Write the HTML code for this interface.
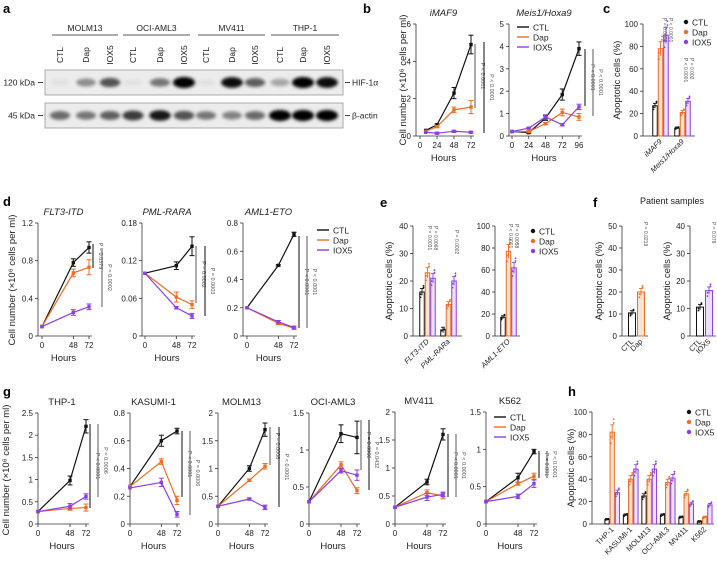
<!DOCTYPE html>
<html><head><meta charset="utf-8"><style>
body{margin:0;background:#fff}
svg{display:block;font-family:"Liberation Sans",sans-serif}
</style></head><body>
<svg id="fig" width="717" height="561" viewBox="0 0 717 561">
<defs><filter id="blur" x="-50%" y="-50%" width="200%" height="200%"><feGaussianBlur stdDeviation="1.6"/></filter></defs>
</svg>
<script>
// ---------- data ----------
const blotLanes=['CTL','Dap','IOX5','CTL','Dap','IOX5','CTL','Dap','IOX5','CTL','Dap','IOX5'];
const blotGroups=['MOLM13','OCI-AML3','MV411','THP-1'];
const hifBands=[0.05,0.4,0.65,0.05,0.5,1,0.05,0.95,0.6,0.3,1,0.95];
const actinBands=[0.55,0.5,0.6,0.75,0.9,0.65,0.5,0.45,0.55,1,1,1];

const b1Times=[8,24,48,72];
const b1Ctl=[0.3,0.6,2.3,4.9];const b1Dap=[0.25,0.5,1.4,1.55];const b1Iox=[0.2,0.15,0.25,0.2];
const b1CtlE=[0,0.05,0.3,0.5];const b1DapE=[0,0.05,0.15,0.35];const b1IoxE=[0,0.05,0.05,0.05];
const b2Times=[0,24,48,72,96];
const b2Ctl=[0.2,0.15,0.8,1.85,3.9];const b2Dap=[0.2,0.2,0.55,1.05,0.85];const b2Iox=[0.2,0.35,0.85,0.5,1.3];
const b2CtlE=[0,0.03,0.1,0.25,0.3];const b2DapE=[0,0.03,0.05,0.15,0.15];const b2IoxE=[0,0.03,0.1,0.05,0.12];

const cCats=['iMAF9','Meis1/Hoxa9'];
const cCtl=[27,7];const cDap=[78,21];const cIox=[90,31];

const dTimes=[0,48,72];
const dFltCtl=[0.1,0.78,0.94];const dFltDap=[0.1,0.67,0.73];const dFltIox=[0.1,0.25,0.31];
const dPmlCtl=[0.1,0.112,0.143];const dPmlDap=[0.1,0.062,0.05];const dPmlIox=[0.1,0.045,0.032];
const dAmlCtl=[0.2,0.5,0.72];const dAmlDap=[0.2,0.09,0.055];const dAmlIox=[0.2,0.1,0.06];

const eCats1=['FLT3-ITD','PML-RARa'];
const eCtl1=[16,2.2];const eDap1=[23,11.5];const eIox1=[21,20];
const eCats2=['AML1-ETO'];
const eCtl2=[17];const eDap2=[77];const eIox2=[62];

const fCats1=['CTL','Dap'];const fVals1=[10.5,20];
const fCats2=['CTL','IOX5'];const fVals2=[10.5,16.5];

const gTimes=[0,48,72];
const gThpCtl=[0.28,0.98,2.2];const gThpDap=[0.28,0.35,0.37];const gThpIox=[0.28,0.4,0.62];
const gKasCtl=[0.27,0.6,0.67];const gKasDap=[0.27,0.45,0.17];const gKasIox=[0.26,0.3,0.07];
const gMolCtl=[0.32,1.0,1.7];const gMolDap=[0.32,0.79,1.04];const gMolIox=[0.32,0.45,0.3];
const gOciCtl=[0.3,1.22,1.17];const gOciDap=[0.3,0.8,0.45];const gOciIox=[0.3,0.72,0.66];
const gMvCtl=[0.3,0.75,1.6];const gMvDap=[0.3,0.56,0.5];const gMvIox=[0.3,0.48,0.53];
const gK5Ctl=[0.3,0.62,0.97];const gK5Dap=[0.3,0.54,0.64];const gK5Iox=[0.3,0.37,0.54];

const hCats=['THP-1','KASUMI-1','MOLM13','OCI-AML3','MV411','K562'];
const hCtl=[4,8,25,8,6,2];const hDap=[82,40,40,37,27,6];const hIox=[28,49,49,41,18,17];

// ---------- helpers ----------
const NS='http://www.w3.org/2000/svg';
const svg=document.getElementById('fig');
const BLK='#111',ORG='#f26b21',PUR='#8b3fe6',ORGL='#fde3d2',PURL='#ece0fb';
function mk(tag,attrs,parent){const e=document.createElementNS(NS,tag);for(const k in attrs)e.setAttribute(k,attrs[k]);(parent||svg).appendChild(e);return e;}
function txt(x,y,s,size,opts){opts=opts||{};const t=mk('text',{x:x,y:y,'font-size':size,'text-anchor':opts.a||'start',fill:opts.fill||'#222'});if(opts.rot!==undefined)t.setAttribute('transform','rotate('+opts.rot+' '+x+' '+y+')');if(opts.it)t.setAttribute('font-style','italic');if(opts.b)t.setAttribute('font-weight','bold');t.textContent=s;return t;}

function yAxis(ax,y0,ytop,ymax,ticks,labels){
  const l=mk('line',{x1:ax,y1:y0,x2:ax,y2:ytop,stroke:'#333','stroke-width':0.8});
  
  
  ticks.forEach((v,i)=>{const y=y0-v/ymax*(y0-ytop);mk('line',{x1:ax-3,y1:y,x2:ax,y2:y,stroke:'#333','stroke-width':0.8});
    const t=txt(ax-5,y+3,labels[i],8,{a:'end'});
    
    });
}
function lineChart(c){
  const sy=v=>c.y0-v/c.ymax*(c.y0-c.ytop);
  const sx=t=>c.x0+t/c.tmax*(c.x1-c.x0);
  yAxis(c.ax,c.y0,c.ytop,c.ymax,c.yt,c.ytl);
  const xa=mk('line',{x1:c.ax,y1:c.y0,x2:c.x1+3,y2:c.y0,stroke:'#333','stroke-width':0.8});
  
  
  c.xt.forEach(t=>{const x=sx(t);mk('line',{x1:x,y1:c.y0,x2:x,y2:c.y0+3,stroke:'#333','stroke-width':0.8});
    const lb=txt(x,c.y0+12,String(t),8,{a:'middle'});
    
    });
  const h=txt((c.ax+c.x1)/2,c.y0+25,'Hours',9.5,{a:'middle'});
  
  
  if(c.title){const tt=txt((c.ax+c.x1)/2,c.ytop-8,c.title,9.5,{a:'middle',it:c.it});
    
    }
  c.series.forEach(s=>{
    const pts=s.v.map((v,i)=>sx(s.t[i])+','+sy(v)).join(' ');
    const pl=mk('polyline',{points:pts,fill:'none',stroke:s.col,'stroke-width':1.2});
    
    
    s.v.forEach((v,i)=>{const x=sx(s.t[i]),y=sy(v);const e=(s.e&&s.e[i])||0;
      if(e>0){mk('line',{x1:x,y1:sy(v-e),x2:x,y2:sy(v+e),stroke:s.col,'stroke-width':1});
        mk('line',{x1:x-2.5,y1:sy(v+e),x2:x+2.5,y2:sy(v+e),stroke:s.col,'stroke-width':1});
        mk('line',{x1:x-2.5,y1:sy(v-e),x2:x+2.5,y2:sy(v-e),stroke:s.col,'stroke-width':1});}
      const m=mk('rect',{x:x-1.7,y:y-1.7,width:3.4,height:3.4,fill:s.col});
      
      });
  });
}
function std(ctl,dap,iox,t,e){return [{t:t,v:ctl,col:BLK,e:e?e[0]:null},{t:t,v:dap,col:ORG,e:e?e[1]:null},{t:t,v:iox,col:PUR,e:e?e[2]:null}];}
function barChart(c){
  const sy=v=>c.y0-v/c.ymax*(c.y0-c.ytop);
  yAxis(c.ax,c.y0,c.ytop,c.ymax,c.yt,c.ytl);
  const xa=mk('line',{x1:c.ax,y1:c.y0,x2:c.xend,y2:c.y0,stroke:'#333','stroke-width':0.8});
  
  
  c.cats.forEach((cat,gi)=>{
    const gx=c.g0+gi*c.gs;
    c.series.forEach((s,si)=>{
      const x=gx+si*c.bs;const v=s.v[gi];
      const r=mk('rect',{x:x-c.bw/2,y:sy(v),width:c.bw,height:c.y0-sy(v),fill:s.fill,stroke:s.col,'stroke-width':1});
      
      
      const e=Math.max(1,v*0.08);
      mk('line',{x1:x,y1:sy(v-e),x2:x,y2:sy(v+e),stroke:s.col,'stroke-width':0.9});
      mk('line',{x1:x-2,y1:sy(v+e),x2:x+2,y2:sy(v+e),stroke:s.col,'stroke-width':0.9});
      [-0.12,0.1,-0.05,0.14].forEach((d,k)=>mk('circle',{cx:x+(k%2?1.5:-1.5),cy:sy(Math.max(0,v*(1+d))),r:0.9,fill:s.col}));
    });
    const lx=gx+(c.series.length-1)*c.bs/2+2;
    const lb=txt(lx,c.y0+6,cat,7.5,{a:'end',rot:-45,it:c.it});
    
    
  });
  const yt=txt(c.ttx,(c.y0+c.ytop)/2,'Apoptotic cells (%)',9.5,{a:'middle',rot:-90});
  
  
}
function legend(x,y,bars){
  [['CTL',BLK],['Dap',ORG],['IOX5',PUR]].forEach((p,i)=>{
    const yy=y+i*10;
    if(bars){mk('circle',{cx:x+3,cy:yy,r:2.2,fill:p[1]});}
    else{mk('line',{x1:x,y1:yy,x2:x+12,y2:yy,stroke:p[1],'stroke-width':1.4});}
    const t=txt(x+(bars?9:16),yy+3.5,p[0],8.5);
    
    
  });
}
function pbar(x,y1,y2,label,col){
  mk('line',{x1:x,y1:y1,x2:x,y2:y2,stroke:col||'#222','stroke-width':1.1});
  const t=txt(x+6,(y1+y2)/2,label,5.5,{a:'middle',rot:90,fill:'#555'});
  
  
}
function ytitle(x,y,s){const t=txt(x,y,s,9.5,{a:'middle',rot:-90});
  
  }
function panel(x,y,s){const t=txt(x,y,s,13,{b:true,fill:'#000'});
  
  }

// ---------- panel a ----------
panel(3,13,'a');
const laneX=[60,86,110,133,160,184,206,232,255,280,303,327];
blotGroups.forEach((g,i)=>{
  const x1=[52,123,198,271][i],x2=[118,190,265,339][i];
  mk('line',{x1:x1,y1:35,x2:x2,y2:35,stroke:'#222','stroke-width':0.8});
  const t=txt((x1+x2)/2,31,g,8.5,{a:'middle'});
  
  
});
blotLanes.forEach((l,i)=>{const t=txt(laneX[i]+3,55,l,8.5,{a:'middle',rot:-90});
  
  });
[[70,95,hifBands,'120 kDa','HIF-1α'],[103,128,actinBands,'45 kDa','β-actin']].forEach(b=>{
  const box=mk('rect',{x:45,y:b[0],width:298,height:b[1]-b[0],fill:'#ececec',stroke:'#999','stroke-width':0.8});
  
  
  const cy=(b[0]+b[1])/2;
  b[2].forEach((v,i)=>mk('ellipse',{cx:laneX[i],cy:cy,rx:9+v*2,ry:3+v*2.5,fill:'#000','fill-opacity':v,filter:'url(#blur)'}));
  mk('line',{x1:38,y1:cy,x2:43,y2:cy,stroke:'#444'});
  mk('line',{x1:345,y1:cy,x2:350,y2:cy,stroke:'#444'});
  txt(35,cy+3,b[3],8.5,{a:'end'});
  txt(352,cy+3,b[4],8.5);
});

// ---------- panel b ----------
panel(363,13,'b');
ytitle(406,80,'Cell number (×10⁶ cells per ml)');
lineChart({ax:416,x0:420,x1:471,tmax:72,y0:136,ytop:24,ymax:6,yt:[0,2,4,6],ytl:['0','2','4','6'],xt:[0,24,48,72],title:'iMAF9',it:true,
  series:std(b1Ctl,b1Dap,b1Iox,b1Times,[b1CtlE,b1DapE,b1IoxE])});
lineChart({ax:509,x0:512,x1:579,tmax:96,y0:136,ytop:24,ymax:5,yt:[0,1,2,3,4,5],ytl:['0','1','2','3','4','5'],xt:[0,24,48,72,96],title:'Meis1/Hoxa9',it:true,
  series:std(b2Ctl,b2Dap,b2Iox,b2Times,[b2CtlE,b2DapE,b2IoxE])});
legend(517,27,false);
pbar(475,44,108,'P < 0.0001','#666');pbar(484,42,133,'P < 0.0001','#222');
pbar(585,49,106,'P < 0.0001','#222');pbar(593,49,116,'P < 0.0001','#666');

// ---------- panel c ----------
panel(603,13,'c');
barChart({ax:643,y0:136,ytop:24,ymax:100,yt:[0,20,40,60,80,100],ytl:['0','20','40','60','80','100'],xend:695,g0:655,gs:22,bs:5.5,bw:4.5,cats:cCats,it:true,ttx:620,
  series:[{v:cCtl,col:BLK,fill:'#fff'},{v:cDap,col:ORG,fill:ORGL},{v:cIox,col:PUR,fill:PURL}]});
legend(683,22,true);
txt(663,18,'P = 0.0003',5,{rot:90,a:'start',fill:'#555'});txt(669,18,'P < 0.0001',5,{rot:90,a:'start',fill:'#555'});
txt(684,58,'P < 0.0001',5,{rot:90,a:'start',fill:'#555'});txt(690,58,'P = 0.002',5,{rot:90,a:'start',fill:'#555'});

// ---------- panel d ----------
panel(3,206,'d');
ytitle(15,280,'Cell number (×10⁶ cells per ml)');
lineChart({ax:38,x0:42,x1:89,tmax:72,y0:336,ytop:223,ymax:1.2,yt:[0,0.4,0.8,1.2],ytl:['0','0.4','0.8','1.2'],xt:dTimes,title:'FLT3-ITD',it:true,
  series:std(dFltCtl,dFltDap,dFltIox,dTimes,[[0,0.04,0.06],[0,0.04,0.08],[0,0.03,0.03]])});
lineChart({ax:142,x0:145,x1:192,tmax:72,y0:336,ytop:223,ymax:0.18,yt:[0,0.06,0.12,0.18],ytl:['0','0.06','0.12','0.18'],xt:dTimes,title:'PML-RARA',it:true,
  series:std(dPmlCtl,dPmlDap,dPmlIox,dTimes,[[0,0.006,0.015],[0,0.008,0.006],[0,0.002,0.004]])});
lineChart({ax:243,x0:247,x1:294,tmax:72,y0:336,ytop:223,ymax:0.8,yt:[0,0.2,0.4,0.6,0.8],ytl:['0','0.2','0.4','0.6','0.8'],xt:dTimes,title:'AML1-ETO',it:true,
  series:std(dAmlCtl,dAmlDap,dAmlIox,dTimes,[[0,0.005,0.015],[0,0.008,0.008],[0,0.01,0.01]])});
legend(317,230,false);
pbar(93,244,268,'P = 0.0379','#222');pbar(102,248,307,'P = 0.0002','#666');
pbar(196,246,303,'P = 0.0002','#666');pbar(205,246,316,'P = 0.0003','#222');
pbar(299,236,328,'P < 0.0001','#222');pbar(307,236,328,'P < 0.0001','#666');

// ---------- panel e ----------
panel(380,207,'e');
barChart({ax:413,y0:336,ytop:226,ymax:40,yt:[0,10,20,30,40],ytl:['0','10','20','30','40'],xend:462,g0:422,gs:21,bs:5.5,bw:4.5,cats:eCats1,it:true,ttx:392,
  series:[{v:eCtl1,col:BLK,fill:'#fff'},{v:eDap1,col:ORG,fill:ORGL},{v:eIox1,col:PUR,fill:PURL}]});
barChart({ax:495,y0:336,ytop:226,ymax:100,yt:[0,20,40,60,80,100],ytl:['0','20','40','60','80','100'],xend:520,g0:503,gs:20,bs:5.5,bw:4.5,cats:eCats2,it:true,ttx:-100,
  series:[{v:eCtl2,col:BLK,fill:'#fff'},{v:eDap2,col:ORG,fill:ORGL},{v:eIox2,col:PUR,fill:PURL}]});
legend(530,231,true);
txt(428,226,'P = 0.0031',5,{rot:90,a:'start',fill:'#555'});txt(434,226,'P = 0.0068',5,{rot:90,a:'start',fill:'#555'});
txt(455,230,'P = 0.0002',5,{rot:90,a:'start',fill:'#555'});
txt(509,224,'P < 0.0001',5,{rot:90,a:'start',fill:'#555'});txt(515,224,'P = 0.0058',5,{rot:90,a:'start',fill:'#555'});

// ---------- panel f ----------
panel(593,207,'f');
const ps=txt(640,204,'Patient samples',9);


barChart({ax:622,y0:336,ytop:226,ymax:50,yt:[0,10,20,30,40,50],ytl:['0','10','20','30','40','50'],xend:648,g0:632,gs:0,bs:9,bw:7,cats:[''],ttx:602,
  series:[{v:[fVals1[0]],col:BLK,fill:'#fff'},{v:[fVals1[1]],col:ORG,fill:ORGL}]});
barChart({ax:690,y0:336,ytop:226,ymax:40,yt:[0,10,20,30,40],ytl:['0','10','20','30','40'],xend:716,g0:700,gs:0,bs:9,bw:7,cats:[''],ttx:670,
  series:[{v:[fVals2[0]],col:BLK,fill:'#fff'},{v:[fVals2[1]],col:PUR,fill:PURL}]});
fCats1.forEach((c,i)=>txt(634+i*9,342,c,7.5,{a:'end',rot:-45}));
fCats2.forEach((c,i)=>txt(702+i*9,342,c,7.5,{a:'end',rot:-45}));
txt(644,222,'P = 0.0219',5,{rot:90,a:'start',fill:'#555'});
txt(712,222,'P = 0.078',5,{rot:90,a:'start',fill:'#555'});

// ---------- panel g ----------
panel(3,396,'g');
ytitle(9,470,'Cell number (×10⁶ cells per ml)');
lineChart({ax:38,x0:38,x1:86,tmax:72,y0:524,ytop:413,ymax:2.5,yt:[0,0.5,1,1.5,2,2.5],ytl:['0','0.5','1','1.5','2','2.5'],xt:gTimes,title:'THP-1',
  series:std(gThpCtl,gThpDap,gThpIox,gTimes,[[0,0.1,0.15],[0,0.04,0.08],[0,0.06,0.06]])});
lineChart({ax:130,x0:130,x1:177,tmax:72,y0:524,ytop:413,ymax:0.8,yt:[0,0.2,0.4,0.6,0.8],ytl:['0','0.2','0.4','0.6','0.8'],xt:gTimes,title:'KASUMI-1',
  series:std(gKasCtl,gKasDap,gKasIox,gTimes,[[0,0.04,0.02],[0,0.02,0.03],[0,0.03,0.02]])});
lineChart({ax:218,x0:218,x1:265,tmax:72,y0:524,ytop:413,ymax:2,yt:[0,0.5,1,1.5,2],ytl:['0','0.5','1','1.5','2'],xt:gTimes,title:'MOLM13',
  series:std(gMolCtl,gMolDap,gMolIox,gTimes,[[0,0.05,0.12],[0,0.02,0.05],[0,0.02,0.04]])});
lineChart({ax:309,x0:309,x1:357,tmax:72,y0:524,ytop:413,ymax:1.5,yt:[0,0.5,1,1.5],ytl:['0','0.5','1','1.5'],xt:gTimes,title:'OCI-AML3',
  series:std(gOciCtl,gOciDap,gOciIox,gTimes,[[0,0.12,0.22],[0,0.04,0.04],[0,0.03,0.07]])});
lineChart({ax:395,x0:395,x1:443,tmax:72,y0:524,ytop:412,ymax:2,yt:[0,0.5,1,1.5,2],ytl:['0','0.5','1','1.5','2'],xt:gTimes,title:'MV411',
  series:std(gMvCtl,gMvDap,gMvIox,gTimes,[[0,0.05,0.1],[0,0.05,0.05],[0,0.06,0.04]])});
lineChart({ax:486,x0:486,x1:534,tmax:72,y0:524,ytop:412,ymax:1.5,yt:[0,0.5,1,1.5],ytl:['0','0.5','1','1.5'],xt:gTimes,title:'K562',
  series:std(gK5Ctl,gK5Dap,gK5Iox,gTimes,[[0,0.06,0.03],[0,0.02,0.04],[0,0.03,0.05]])});
legend(494,417,false);
pbar(90,424,508,'P < 0.0001','#222');pbar(98,424,497,'P = 0.0006','#666');
pbar(182,431,497,'P < 0.0001','#222');pbar(190,431,515,'P = 0.0006','#666');
pbar(270,427,465,'P = 0.0008','#666');pbar(279,427,507,'P < 0.0001','#222');
pbar(361,420,470,'P = 0.0066','#666');pbar(369,420,490,'P = 0.0432','#222');
pbar(448,434,497,'P < 0.0001','#222');pbar(456,434,497,'P < 0.0001','#666');
pbar(539,451,478,'P = 0.001','#222');pbar(547,451,478,'P < 0.0001','#666');

// ---------- panel h ----------
panel(568,396,'h');
barChart({ax:592,y0:524,ytop:412,ymax:100,yt:[0,20,40,60,80,100],ytl:['0','20','40','60','80','100'],xend:714,g0:607,gs:18.5,bs:5.2,bw:4.3,cats:hCats,ttx:574,
  series:[{v:hCtl,col:BLK,fill:'#fff'},{v:hDap,col:ORG,fill:ORGL},{v:hIox,col:PUR,fill:PURL}]});
legend(686,412,true);
</script>
</body></html>
